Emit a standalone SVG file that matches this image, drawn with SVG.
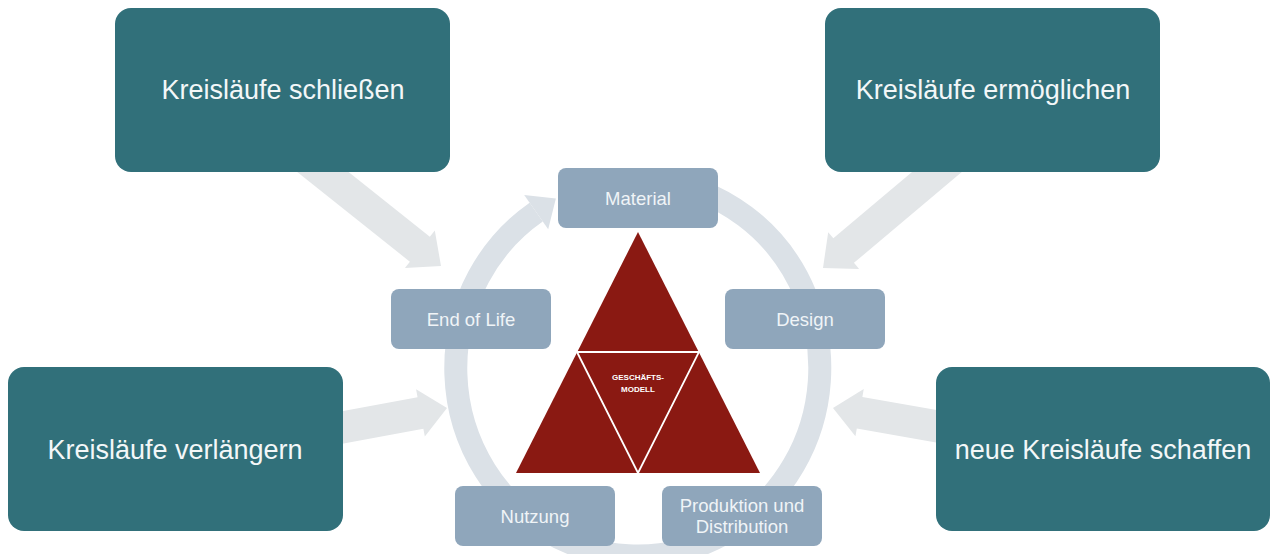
<svg xmlns="http://www.w3.org/2000/svg" width="1271" height="554" viewBox="0 0 1271 554">
<defs>
<style>
.big{fill:#31707A;}
.bigt{font-family:"Liberation Sans",Arial,sans-serif;font-size:27px;fill:#F3F7F8;text-anchor:middle;}
.small{fill:#8FA6BB;}
.smallt{font-family:"Liberation Sans",Arial,sans-serif;font-size:18.5px;fill:#F0F4F7;text-anchor:middle;}
.garrow{fill:#E3E6E8;}
.ring{fill:none;stroke:#DBE1E7;stroke-width:23;}
.tri{fill:#8A1912;}
.gm{font-family:"Liberation Sans",Arial,sans-serif;font-size:8px;font-weight:bold;fill:#FFFFFF;text-anchor:middle;}
</style>
<polygon id="blk" points="0,0 -27,-24 -27,-16 -185,-16 -185,16 -27,16 -27,24"/>
</defs>
<rect width="1271" height="554" fill="#FFFFFF"/>
<g id="connectors">
<use href="#blk" class="garrow" transform="translate(441,266) rotate(38.5)"/>
<use href="#blk" class="garrow" transform="translate(823,268) rotate(139.9)"/>
<use href="#blk" class="garrow" transform="translate(447,408) rotate(-10.5)"/>
<use href="#blk" class="garrow" transform="translate(833,408) rotate(190)"/>
<path class="ring" d="M 569.8 193.7 A 182 188 0 1 1 536.2 212.1"/>
<polygon fill="#DBE1E7" points="555.9,198.4 548.2,229.3 524.2,194.9"/>
</g>
<g id="node-schliessen">
<rect class="big" x="115" y="8" width="335" height="164" rx="16"/>
<text class="bigt" x="283" y="99">Kreisläufe schließen</text>
</g>
<g id="node-ermoeglichen">
<rect class="big" x="825" y="8" width="335" height="164" rx="16"/>
<text class="bigt" x="993" y="99">Kreisläufe ermöglichen</text>
</g>
<g id="node-verlaengern">
<rect class="big" x="8" y="367" width="335" height="164" rx="16"/>
<text class="bigt" x="175" y="459">Kreisläufe verlängern</text>
</g>
<g id="node-schaffen">
<rect class="big" x="936" y="367" width="334" height="164" rx="16"/>
<text class="bigt" x="1103" y="459">neue Kreisläufe schaffen</text>
</g>
<g id="node-material">
<rect class="small" x="558" y="168" width="160" height="60" rx="8"/>
<text class="smallt" x="638" y="204.5">Material</text>
</g>
<g id="node-design">
<rect class="small" x="725" y="289" width="160" height="60" rx="8"/>
<text class="smallt" x="805" y="325.5">Design</text>
</g>
<g id="node-produktion">
<rect class="small" x="662" y="486" width="160" height="60" rx="8"/>
<text class="smallt" x="742" y="512">Produktion und</text>
<text class="smallt" x="742" y="533">Distribution</text>
</g>
<g id="node-nutzung">
<rect class="small" x="455" y="486" width="160" height="60" rx="8"/>
<text class="smallt" x="535" y="522.5">Nutzung</text>
</g>
<g id="node-endoflife">
<rect class="small" x="391" y="289" width="160" height="60" rx="8"/>
<text class="smallt" x="471" y="325.5">End of Life</text>
</g>
<g id="node-geschaeftsmodell">
<polygon class="tri" points="638,232 760,473 516,473"/>
<polyline points="577,352 699,352 638,473 577,352" fill="none" stroke="#FFFFFF" stroke-width="1.8" stroke-linejoin="miter"/>
<text class="gm" x="638" y="380">GESCHÄFTS-</text>
<text class="gm" x="638" y="392">MODELL</text>
</g>
</svg>
